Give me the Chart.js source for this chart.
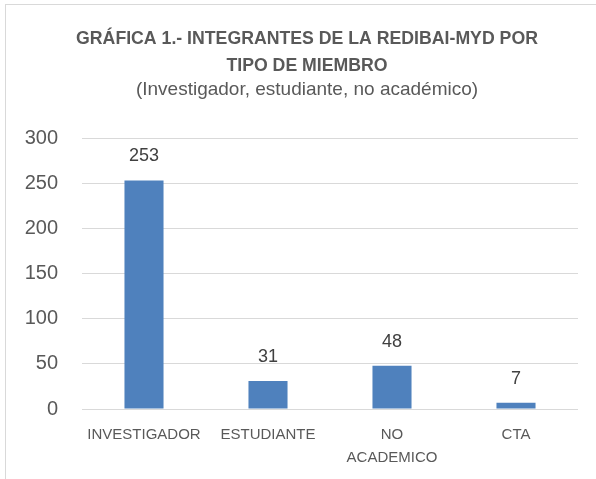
<!DOCTYPE html>
<html><head><meta charset="utf-8">
<script src="https://cdn.jsdelivr.net/npm/chart.js@4/dist/chart.umd.min.js"></script>
<style>
html,body{margin:0;padding:0;background:#fff;overflow:hidden}
#wrap{position:absolute;left:0;top:0;width:596px;height:479px;overflow:hidden}
#frame{position:absolute;left:5px;top:4px;width:620px;height:500px;border:1px solid #d9d9d9;box-sizing:border-box}
canvas{position:absolute;left:0;top:0}
</style></head>
<body>
<div id="wrap"><div id="frame"></div><canvas id="c" width="614" height="479"></canvas></div>
<script>
const categories = [['INVESTIGADOR'], ['ESTUDIANTE'], ['NO', 'ACADEMICO'], ['CTA']];
const values = [253, 31, 48, 7];
const yTicks = [0, 50, 100, 150, 200, 250, 300];
const titleLines = ['GRÁFICA 1.- INTEGRANTES DE LA REDIBAI-MYD POR', 'TIPO DE MIEMBRO'];
const subtitleText = '(Investigador, estudiante, no académico)';

const FONT = '"Liberation Sans", Arial, sans-serif';

const valueLabels = {
  id: 'valueLabels',
  afterLayout(chart) {
    // let y tick labels extend left of the (narrow) axis box without clipping
    chart.scales.y._computeLabelArea = function () { return undefined; };
  },
  afterDatasetsDraw(chart) {
    const ctx = chart.ctx;
    const meta = chart.getDatasetMeta(0);
    ctx.save();
    ctx.font = '18px ' + FONT;
    ctx.fillStyle = '#404040';
    ctx.textAlign = 'center';
    ctx.textBaseline = 'middle';
    meta.data.forEach((bar, i) => {
      ctx.fillText(String(chart.data.datasets[0].data[i]), bar.x, bar.y - 24);
    });
    ctx.restore();
  }
};

new Chart(document.getElementById('c'), {
  type: 'bar',
  data: {
    labels: categories,
    datasets: [{
      data: values,
      backgroundColor: '#4f81bd',
      borderWidth: 0,
      barPercentage: 0.315,
      categoryPercentage: 1
    }]
  },
  options: {
    responsive: false,
    animation: false,
    layout: { padding: { left: 36, right: 36, top: 0, bottom: 0 } },
    plugins: {
      legend: { display: false },
      tooltip: { enabled: false },
      title: {
        display: true,
        text: titleLines,
        color: '#595959',
        font: { family: FONT, size: 17.7, weight: 'bold', lineHeight: 27 / 17.7 },
        padding: { top: 25.5, bottom: 0 }
      },
      subtitle: {
        display: true,
        text: subtitleText,
        color: '#595959',
        font: { family: FONT, size: 19, lineHeight: 14 / 19 },
        padding: { top: 3, bottom: 41.5 }
      }
    },
    scales: {
      x: {
        grid: { display: false, drawTicks: false },
        border: { display: false },
        ticks: {
          color: '#595959',
          font: { family: FONT, size: 15, lineHeight: 23/15 },
          padding: 14,
          maxRotation: 0,
          autoSkip: false
        },
        afterFit(s) { s.height = 70; }
      },
      y: {
        min: 0, max: 300,
        afterBuildTicks(s) { s.ticks = yTicks.map(v => ({ value: v })); },
        grid: { color: '#d9d9d9', lineWidth: 1, drawTicks: false },
        border: { display: false },
        ticks: {
          color: '#595959',
          font: { family: FONT, size: 20 },
          padding: 24
        },
        afterFit(s) { s.width = 46; }
      }
    }
  },
  plugins: [valueLabels]
});
</script>
</body></html>
